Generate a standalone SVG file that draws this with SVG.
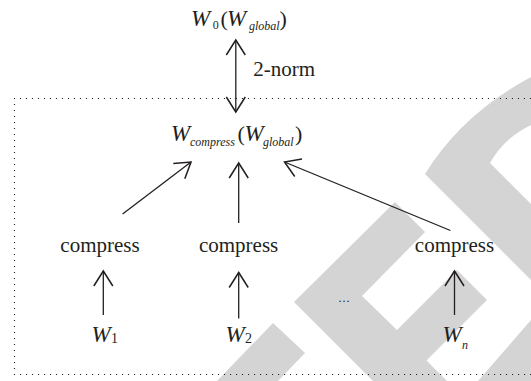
<svg xmlns="http://www.w3.org/2000/svg" width="531" height="381" viewBox="0 0 531 381">
<defs>
<style>
text{font-family:"Liberation Serif","Times New Roman",serif;fill:#231f20}
.it{font-style:italic}
.big{font-size:22px}
.w{font-size:23px;font-style:italic}
.lbl{font-size:21px}
.sub{font-size:12px}
.dig{font-size:14px}
.wm{fill:#d4d4d4}
.edge{fill:none;stroke:#231f20;stroke-width:1.3;marker-end:url(#ah)}
</style>
<marker id="ah" markerUnits="userSpaceOnUse" viewBox="-17 -11 19 22" markerWidth="19" markerHeight="22" refX="0" refY="0" orient="auto-start-reverse">
<path d="M-15,-9.5 L0,0 L-15,9.5" fill="none" stroke="#231f20" stroke-width="1.5"/>
</marker>
</defs>
<rect width="531" height="381" fill="#ffffff"/>
<g id="watermark">
<path class="wm" d="M531,77 Q462,114 425,174 L531,280 L531,204 L490,163 Q504,138 531,125 Z"/>
<path class="wm" d="M395,202 L425,232 L362,296 L397,330 L457,270 L487,300 L426.5,360.5 L447,381 L373,381 L294,302 Z"/>
<path class="wm" d="M273,323 L305,353 L278,381 L217,381 Z"/>
<path class="wm" d="M531,320 L531,381 L478,381 Z"/>
</g>
<path id="frame" d="M531,98.5 H14.5 V374.5 H531" fill="none" stroke="#231f20" stroke-width="1.1" stroke-dasharray="1.1 4.9"/>
<g id="connectors">
<line class="edge" x1="235.8" y1="40" x2="235.8" y2="112" marker-start="url(#ah)"/>
<line class="edge" x1="122.6" y1="214" x2="191" y2="162"/>
<line class="edge" x1="238.7" y1="223" x2="238.7" y2="163"/>
<line class="edge" x1="450.4" y1="230.5" x2="284.5" y2="162"/>
<line class="edge" x1="103.3" y1="315" x2="103.3" y2="271"/>
<line class="edge" x1="238.7" y1="318.5" x2="238.7" y2="272.5"/>
<line class="edge" x1="454.5" y1="315" x2="454.5" y2="271"/>
</g>
<text id="norm" class="lbl" x="253.3" y="76">2-norm</text>
<g id="w0">
<text class="w" x="191" y="26">W</text>
<text class="sub" x="212.8" y="29" font-size="11">0</text>
<text class="big" x="220.5" y="26">(</text>
<text class="w" x="227" y="26">W</text>
<text class="sub it" x="249" y="30">global</text>
<text class="big" x="279.5" y="26">)</text>
</g>
<g id="wcompress">
<text class="w" x="171" y="140.5">W</text>
<text class="sub it" x="190" y="146">compress</text>
<text class="big" x="237.5" y="140.5">(</text>
<text class="w" x="244.5" y="140.5">W</text>
<text class="sub it" x="263" y="146">global</text>
<text class="big" x="295" y="140.5">)</text>
</g>
<g id="compress1"><text class="lbl" x="100" y="252" text-anchor="middle">compress</text></g>
<g id="compress2"><text class="lbl" x="238.6" y="252" text-anchor="middle">compress</text></g>
<g id="compressn"><text class="lbl" x="454.5" y="252" text-anchor="middle">compress</text></g>
<g id="w1"><text class="w" x="91.5" y="342">W</text><text class="dig" x="111" y="343">1</text></g>
<g id="w2"><text class="w" x="225.5" y="342">W</text><text class="dig" x="245" y="343">2</text></g>
<g id="dots"><text x="338.6" y="302" font-size="12" letter-spacing="1">...</text></g>
<g id="wn"><text class="w" x="442.5" y="342">W</text><text class="sub it" x="462" y="349">n</text></g>
</svg>
